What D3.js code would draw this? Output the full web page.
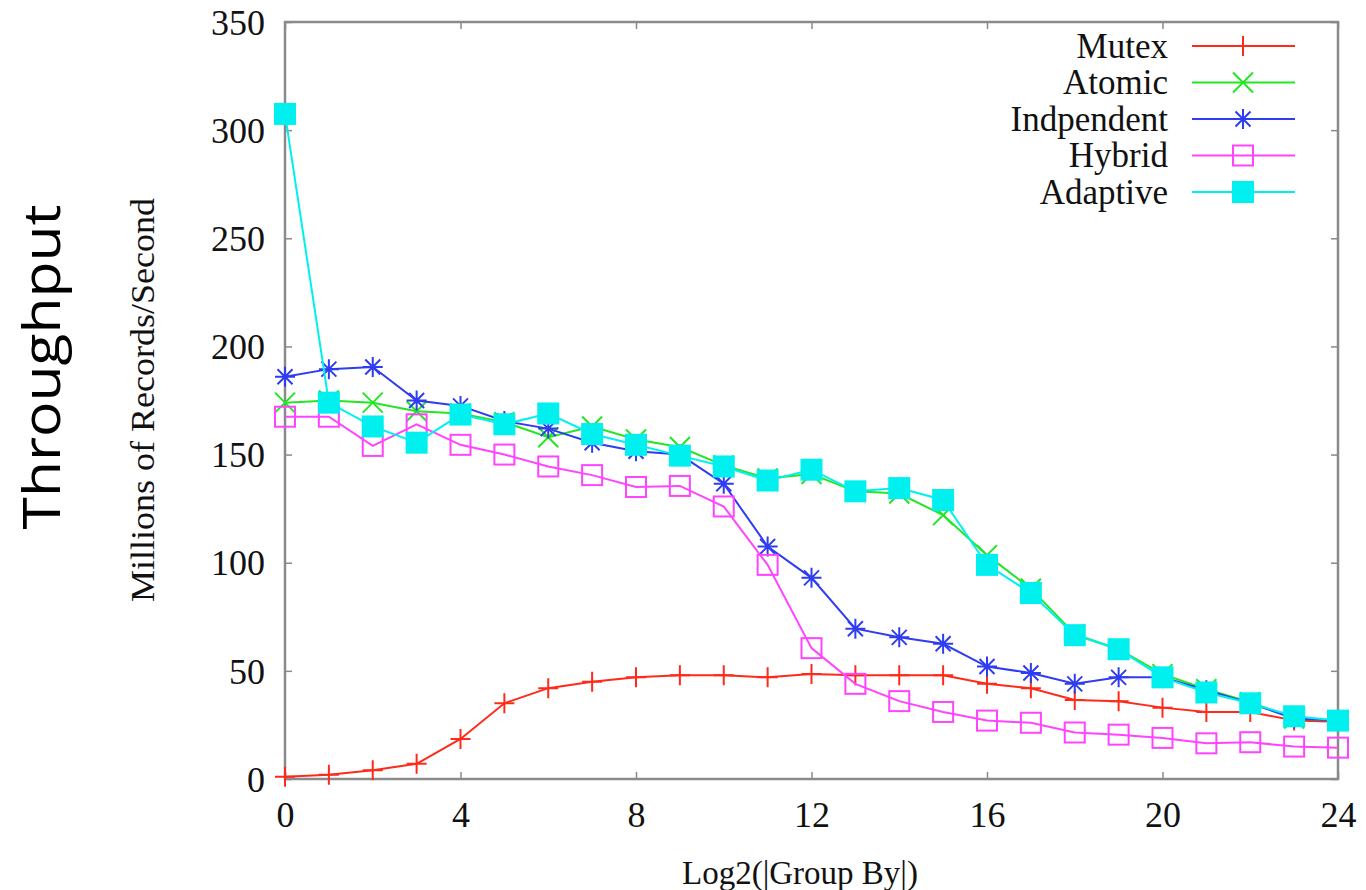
<!DOCTYPE html>
<html>
<head>
<meta charset="utf-8">
<script src="https://cdn.jsdelivr.net/npm/d3@7"></script>
<style>
  body { margin: 0; background: #fff; }
  svg { display: block; }
</style>
</head>
<body>
<div id="chart"></div>
<script>
const xs = d3.range(0, 25);

const mutex = [1, 2, 4, 7, 18.5, 35, 42, 45, 47, 48, 48, 47, 48.5, 48, 48, 48,
  44, 42, 36.5, 36, 33, 31, 31, 27, 26.5];
const atomic = [174, 175, 174, 170, 169, 165, 158, 163, 157, 153.5, 145, 139, 141, 133, 132, 122,
  103.5, 88, 67, 60, 48.5, 41.5, 35.5, 28, 27];
const independent = [186, 189.5, 190.5, 175, 172.5, 165.5, 162, 155.5, 151.5, 150, 136.5, 107.5, 93, 69.5, 65.5, 62.5,
  52, 49, 44, 47, 47, 41, 35, 28, 27];
const hybrid = [167.5, 167.5, 154, 164, 154.5, 150, 144.5, 140.5, 135, 135.5, 126, 99, 60.5, 44, 36, 31,
  27, 26, 21.5, 20.5, 19, 16.5, 17, 15, 14.5];
const adaptive = [307.5, 174, 163, 155.5, 168.5, 164, 169, 159.5, 154.5, 149.5, 144.5, 138, 143, 133, 134.5, 129,
  99, 86, 66.5, 60, 47, 40, 35, 29, 27];

const seriesNames = ['Mutex', 'Atomic', 'Indpendent', 'Hybrid', 'Adaptive'];
const seriesData = [mutex, atomic, independent, hybrid, adaptive];
const seriesColors = ['#ff2a1a', '#22e622', '#2f3cf0', '#ff44ff', '#00f0f0'];
const seriesMarks = ['plus', 'cross', 'star', 'openSquare', 'square'];

const xTicks = [0, 4, 8, 12, 16, 20, 24];
const yTicks = [0, 50, 100, 150, 200, 250, 300, 350];

const width = 1366, height = 890;
const pad = {l: 285, r: 28, t: 22, b: 111};

const svg = d3.select('#chart').append('svg')
  .attr('width', width).attr('height', height);

const x = d3.scaleLinear().domain([0, 24]).range([pad.l, width - pad.r]);
const y = d3.scaleLinear().domain([0, 350]).range([height - pad.b, pad.t]);

const serif = "'Liberation Serif', 'Times New Roman', serif";

// frame
svg.append('rect')
  .attr('x', pad.l).attr('y', pad.t)
  .attr('width', x(24) - pad.l).attr('height', y(0) - pad.t)
  .attr('fill', 'none').attr('stroke', '#8a8a8a').attr('stroke-width', 2.5);

// axes, ticks pointing inward
const axB = svg.append('g').attr('transform', `translate(0,${y(0)})`)
  .call(d3.axisBottom(x).tickValues(xTicks).tickSizeInner(-7).tickSizeOuter(0).tickPadding(22));
const axT = svg.append('g').attr('transform', `translate(0,${y(350)})`)
  .call(d3.axisTop(x).tickValues(xTicks).tickSizeInner(-7).tickSizeOuter(0).tickFormat(''));
const axL = svg.append('g').attr('transform', `translate(${x(0)},0)`)
  .call(d3.axisLeft(y).tickValues(yTicks).tickSizeInner(-7).tickSizeOuter(0).tickPadding(20));
const axR = svg.append('g').attr('transform', `translate(${x(24)},0)`)
  .call(d3.axisRight(y).tickValues(yTicks).tickSizeInner(-7).tickSizeOuter(0).tickFormat(''));

[axB, axT, axL, axR].forEach(a => {
  a.select('.domain').remove();
  a.selectAll('.tick line').attr('stroke', '#8a8a8a').attr('stroke-width', 1.5);
  a.selectAll('.tick text')
    .attr('font-family', serif).attr('font-size', 36).attr('fill', '#111');
});
axL.selectAll('.tick text').attr('dy', '0.34em');
axB.selectAll('.tick text').attr('dy', '0.71em');

// axis titles
svg.append('text')
  .attr('transform', `translate(800, 884)`)
  .attr('text-anchor', 'middle')
  .attr('font-family', serif).attr('font-size', 33).attr('fill', '#111')
  .text('Log2(|Group By|)');

svg.append('text')
  .attr('transform', `translate(154, 400) rotate(-90)`)
  .attr('text-anchor', 'middle')
  .attr('font-family', serif).attr('font-size', 34).attr('fill', '#111')
  .attr('textLength', 404).attr('lengthAdjust', 'spacingAndGlyphs')
  .text('Millions of Records/Second');

svg.append('text')
  .attr('transform', `translate(60, 367) rotate(-90)`)
  .attr('text-anchor', 'middle')
  .attr('font-family', "'Open Sans', 'DejaVu Sans', sans-serif").attr('font-size', 51).attr('fill', '#000')
  .attr('textLength', 325).attr('lengthAdjust', 'spacingAndGlyphs')
  .text('Throughput');

function drawMark(g, kind, cx, cy, color) {
  const s = 10;
  if (kind === 'plus') {
    g.append('path').attr('d', `M${cx - s},${cy}H${cx + s}M${cx},${cy - s}V${cy + s}`)
      .attr('stroke', color).attr('stroke-width', 2).attr('fill', 'none');
  } else if (kind === 'cross') {
    g.append('path').attr('d', `M${cx - s},${cy - s}L${cx + s},${cy + s}M${cx - s},${cy + s}L${cx + s},${cy - s}`)
      .attr('stroke', color).attr('stroke-width', 2).attr('fill', 'none');
  } else if (kind === 'star') {
    g.append('path').attr('d', `M${cx - s},${cy}H${cx + s}M${cx},${cy - s}V${cy + s}` +
      `M${cx - s * 0.75},${cy - s * 0.75}L${cx + s * 0.75},${cy + s * 0.75}M${cx - s * 0.75},${cy + s * 0.75}L${cx + s * 0.75},${cy - s * 0.75}`)
      .attr('stroke', color).attr('stroke-width', 2).attr('fill', 'none');
  } else if (kind === 'openSquare') {
    g.append('rect').attr('x', cx - 10).attr('y', cy - 10).attr('width', 20).attr('height', 20)
      .attr('stroke', color).attr('stroke-width', 2).attr('fill', 'none');
  } else {
    g.append('rect').attr('x', cx - 11).attr('y', cy - 11).attr('width', 22).attr('height', 22)
      .attr('fill', color);
  }
}

const line = d3.line().x((d, i) => x(xs[i])).y(d => y(d));

seriesData.forEach((vals, k) => {
  const g = svg.append('g').attr('class', 'series');
  g.append('path')
    .datum(vals)
    .attr('fill', 'none')
    .attr('stroke', seriesColors[k])
    .attr('stroke-width', 2)
    .attr('d', line);
  vals.forEach((v, i) => drawMark(g, seriesMarks[k], x(xs[i]), y(v), seriesColors[k]));
});

// legend
const lg = svg.append('g');
seriesNames.forEach((name, k) => {
  const ly = 46 + k * 36.5;
  lg.append('text')
    .attr('x', 1168).attr('y', ly).attr('dy', '0.33em')
    .attr('text-anchor', 'end')
    .attr('font-family', serif).attr('font-size', 35).attr('fill', '#111')
    .text(name);
  lg.append('line')
    .attr('x1', 1192).attr('x2', 1295).attr('y1', ly).attr('y2', ly)
    .attr('stroke', seriesColors[k]).attr('stroke-width', 2);
  drawMark(lg, seriesMarks[k], 1243, ly, seriesColors[k]);
});
</script>
</body>
</html>
